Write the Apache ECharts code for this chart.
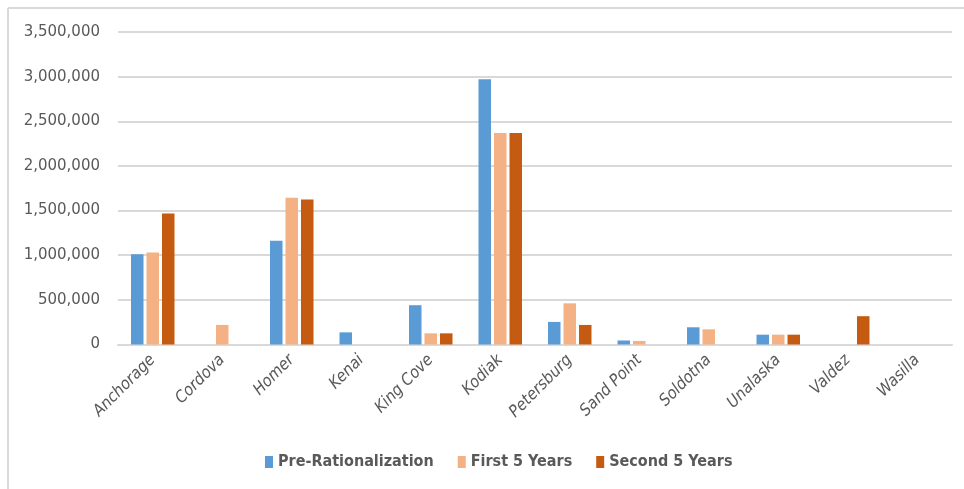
<!DOCTYPE html>
<html>
<head>
<meta charset="utf-8">
<script src="https://cdn.jsdelivr.net/npm/echarts@6/dist/echarts.min.js"></script>
<style>
html,body{margin:0;padding:0;background:#fff;}
#chart{width:964px;height:489px;}
</style>
</head>
<body>
<div id="chart"></div>
<script>
const categories = ["Anchorage","Cordova","Homer","Kenai","King Cove","Kodiak","Petersburg","Sand Point","Soldotna","Unalaska","Valdez","Wasilla"];
const preRationalization = [1010000, 0, 1162000, 136000, 440000, 2970000, 253000, 45000, 193000, 110000, 0, 0];
const firstFiveYears = [1030000, 219000, 1645000, 0, 125000, 2370000, 461000, 40000, 170000, 110000, 0, 0];
const secondFiveYears = [1466000, 0, 1623000, 0, 125000, 2370000, 219000, 0, 0, 110000, 317000, 0];
const seriesNames = ["Pre-Rationalization", "First 5 Years", "Second 5 Years"];
const yTicks = {min: 0, max: 3500000, interval: 500000};

const colors = ["#5B9BD5", "#F4B183", "#C55A11"];
const chart = echarts.init(document.getElementById('chart'));
const mk = (name, data, color) => ({
  name: name, type: 'bar', data: data, barWidth: 12.5, barGap: '24%',
  itemStyle: {color: color},
  emphasis: {disabled: true}
});
const narrow = "'Liberation Sans Narrow','DejaVu Sans Condensed','Roboto',sans-serif";
chart.setOption({
  animation: false,
  backgroundColor: '#ffffff',
  graphic: [
    {type: 'line', shape: {x1: 8, y1: 8, x2: 964, y2: 8}, style: {stroke: '#D9D9D9', lineWidth: 2}},
    {type: 'line', shape: {x1: 8, y1: 8, x2: 8, y2: 489}, style: {stroke: '#D9D9D9', lineWidth: 2}}
  ],
  grid: {left: 118, right: 12, top: 32, bottom: 144.5},
  legend: {
    data: seriesNames, bottom: 14, left: 260, itemWidth: 8, itemHeight: 12, itemGap: 24,
    icon: 'rect',
    textStyle: {color: '#595959', fontSize: 16, fontWeight: 'bold', fontFamily: narrow}
  },
  xAxis: {
    type: 'category', data: categories,
    axisTick: {show: false},
    axisLine: {lineStyle: {color: '#D9D9D9', width: 2}},
    axisLabel: {rotate: 45, interval: 0, margin: 13, color: '#595959', fontSize: 16.5, fontStyle: 'italic',
      fontFamily: narrow}
  },
  yAxis: {
    type: 'value', min: yTicks.min, max: yTicks.max, interval: yTicks.interval,
    axisLine: {show: false}, axisTick: {show: false},
    splitLine: {lineStyle: {color: '#D9D9D9', width: 2}},
    axisLabel: {margin: 18, color: '#595959', fontSize: 15, fontFamily: "'DejaVu Sans',sans-serif",
      formatter: v => v.toLocaleString('en-US')}
  },
  series: [
    mk(seriesNames[0], preRationalization, colors[0]),
    mk(seriesNames[1], firstFiveYears, colors[1]),
    mk(seriesNames[2], secondFiveYears, colors[2])
  ]
});
</script>
</body>
</html>
